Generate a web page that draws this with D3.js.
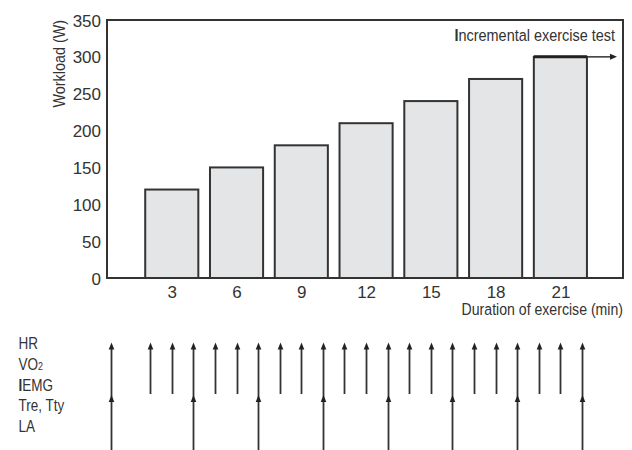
<!DOCTYPE html>
<html>
<head>
<meta charset="utf-8">
<script src="https://cdn.jsdelivr.net/npm/d3@7"></script>
<style>
  html, body { margin: 0; padding: 0; background: #fff; }
  svg text { font-family: "Liberation Sans", Arial, "Helvetica", sans-serif; fill: #333; }
</style>
</head>
<body>
<svg id="chart" width="632" height="450"></svg>
<script>
// ---- data ----
const durations = [3, 6, 9, 12, 15, 18, 21];           // min
const workloads = [120, 150, 180, 210, 240, 270, 300];  // W
const yTicks = [0, 50, 100, 150, 200, 250, 300, 350];
const xTicks = [3, 6, 9, 12, 15, 18, 21];
const shortMeasureMinutes = [0.2, 2, 3, 4, 5, 6, 7, 8, 9, 10, 11, 12, 13, 14, 15, 16, 17, 18, 19, 20, 21, 22]; // HR, VO2, IEMG
const longMeasureMinutes = [0.2, 4, 7, 10, 13, 16, 19, 22];  // Tre, Tty, LA
const rowLabels = ["HR", "VO2", "IEMG", "Tre, Tty", "LA"];

(function () {
// ---- layout ----
const svg = d3.select("#chart");
const pL = 107, pR = 623, pT = 20, pB = 278;
const x = d3.scaleLinear().domain([0, 23.9]).range([pL, pR]);
const y = d3.scaleLinear().domain([0, 350]).range([pB, pT]);
const barW = x(2.46) - x(0);
const ink = "#333";
const SX = 0.84; // condensed look

function ctext(px, py, size, anchor, sx, rot) {
  const tr = `translate(${px},${py})` + (rot ? ` rotate(${rot})` : "") + ` scale(${sx},1)`;
  return svg.append("text")
    .attr("transform", tr)
    .attr("text-anchor", anchor || "start")
    .attr("font-size", size);
}

// bars
svg.append("g").selectAll("rect")
  .data(durations)
  .join("rect")
  .attr("x", (d) => x(d) - barW / 2)
  .attr("y", (d, i) => y(workloads[i]))
  .attr("width", barW)
  .attr("height", (d, i) => y(0) - y(workloads[i]))
  .attr("fill", "#e4e5e7")
  .attr("stroke", ink)
  .attr("stroke-width", 2);

// frame
svg.append("rect")
  .attr("x", pL).attr("y", pT)
  .attr("width", pR - pL).attr("height", pB - pT)
  .attr("fill", "none").attr("stroke", ink).attr("stroke-width", 2);

// y axis labels
const yAxis = d3.axisLeft(y).tickValues(yTicks).tickSize(0).tickPadding(6);
const gy = svg.append("g").attr("transform", `translate(${pL},0)`).call(yAxis);
gy.select(".domain").remove();
gy.attr("font-family", null).attr("font-size", null);
gy.selectAll("text").attr("font-size", 17).attr("fill", ink).attr("dy", "0.36em");

// x axis labels
const xAxis = d3.axisBottom(x).tickValues(xTicks).tickSize(0).tickPadding(8);
const gx = svg.append("g").attr("transform", `translate(0,${pB})`).call(xAxis);
gx.select(".domain").remove();
gx.attr("font-family", null).attr("font-size", null);
gx.selectAll("text").attr("font-size", 17).attr("fill", ink);

// axis titles
ctext(65, pT, 16.5, "end", 0.87, -90).text("Workload (W)");
ctext(pR, 315, 17, "end", 0.83).text("Duration of exercise (min)");

// incremental test annotation
const t = ctext(615, 40.5, 17, "end", 0.85);
t.append("tspan").attr("font-weight", "bold").text("I");
t.append("tspan").text("ncremental exercise test");

const lastIdx = workloads.length - 1;
const topY = y(workloads[lastIdx]);
svg.append("line")
  .attr("x1", x(durations[lastIdx]) - barW / 2).attr("x2", x(durations[lastIdx]) + barW / 2)
  .attr("y1", topY).attr("y2", topY)
  .attr("stroke", "#222").attr("stroke-width", 3);
svg.append("line")
  .attr("x1", x(durations[lastIdx]) + barW / 2).attr("x2", 611)
  .attr("y1", topY).attr("y2", topY)
  .attr("stroke", ink).attr("stroke-width", 1.5);
svg.append("path")
  .attr("d", `M617,${topY} L610,${topY - 3} L610,${topY + 3} Z`)
  .attr("fill", "#222");

// row labels
const rowBase = [349, 369.5, 390.5, 411, 431.5];
rowLabels.forEach((lab, i) => {
  const tx = ctext(18.5, rowBase[i], 16.5, "start", 0.82);
  if (lab === "VO2") {
    tx.append("tspan").text("VO");
    tx.append("tspan").attr("font-size", 11).text("2");
  } else if (lab === "IEMG") {
    tx.append("tspan").attr("font-weight", "bold").text("I");
    tx.append("tspan").text("EMG");
  } else {
    tx.text(lab);
  }
});

// measurement arrows
const tipTop = 342.5, tipMid = 395, shortBottom = 394, longBottom = 450;
function head(g, cx, tipY) {
  g.append("path")
    .attr("d", `M${cx},${tipY} L${cx - 2.8},${tipY + 7} L${cx + 2.8},${tipY + 7} Z`)
    .attr("fill", "#222");
}
const ag = svg.append("g");
shortMeasureMinutes.forEach((m) => {
  const cx = Math.round(x(m)) + 0.5;
  const isLong = longMeasureMinutes.includes(m);
  ag.append("line")
    .attr("x1", cx).attr("x2", cx)
    .attr("y1", isLong ? longBottom : shortBottom).attr("y2", tipTop + 5)
    .attr("stroke", ink).attr("stroke-width", 1.8);
  head(ag, cx, tipTop);
  if (isLong) head(ag, cx, tipMid);
});
})();
</script>
</body>
</html>
